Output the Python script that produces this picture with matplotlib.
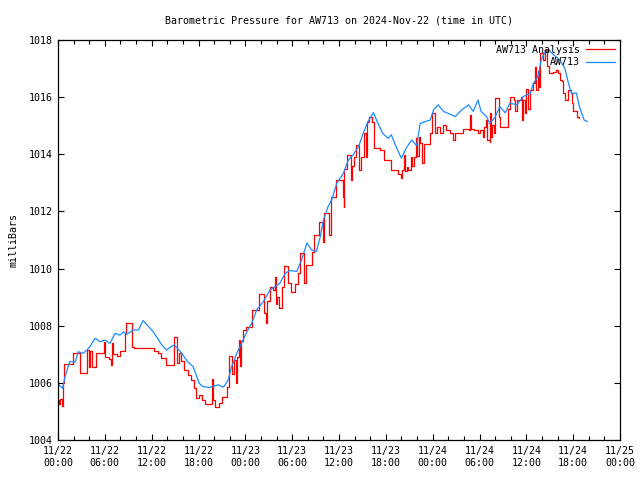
import matplotlib
matplotlib.use("Agg")
import matplotlib.pyplot as plt
import numpy as np

# Hours since 2024-11-22 00:00 UTC
analysis_hours = [0.0, 0.15, 0.3, 0.45, 0.7, 0.77, 1.9, 2.8, 3.75, 3.95, 4.1, 4.3, 4.9, 5.9, 6.05, 6.5, 6.75,
                  6.9, 7.05, 7.5, 8.0, 8.6, 8.75, 9.5, 9.7, 12.0, 12.3, 12.8, 13.2, 13.8, 14.8, 15.2, 15.5,
                  15.8, 16.2, 16.6, 17.0, 17.4, 17.7, 18.1, 18.5, 18.8, 19.7, 19.85, 20.1, 20.6, 21.0, 21.7,
                  21.85, 22.3, 22.5, 22.75, 22.9, 23.2, 23.35, 23.5, 23.7, 24.1, 24.8, 25.8, 26.4, 26.6,
                  26.75, 27.1, 27.5, 27.75, 27.9, 28.1, 28.3, 28.7, 28.9, 29.5, 29.8, 30.4, 30.7, 30.95,
                  31.5, 31.8, 32.6, 32.85, 33.5, 33.9, 34.1, 34.7, 35.0, 35.6, 36.5, 36.6, 36.7, 37.0,
                  37.6, 37.7, 37.9, 38.2, 38.6, 38.8, 39.2, 39.45, 39.6, 39.9, 40.2, 40.45, 41.2, 41.8,
                  42.7, 43.6, 43.9, 44.1, 44.35, 44.5, 44.7, 44.9, 45.2, 45.4, 45.6, 45.9, 46.05, 46.2,
                  46.4, 46.65, 46.85, 47.65, 47.9, 48.3, 48.6, 49.0, 49.3, 49.7, 50.2, 50.6, 50.9, 51.7,
                  51.9, 52.6, 52.75, 52.9, 53.3, 53.8, 54.1, 54.45, 54.6, 54.85, 55.0, 55.3, 55.4, 55.5,
                  55.65, 55.8, 55.95, 56.5, 56.55, 56.65, 57.7, 57.9, 58.4, 58.5, 58.8, 59.3, 59.4, 59.6,
                  59.8, 60.0, 60.2, 60.5, 60.8, 61.1, 61.3, 61.5, 61.6, 61.8, 62.1, 62.4, 62.6, 62.9,
                  63.4, 63.8, 64.1, 64.3, 64.6, 64.7, 64.95, 65.4, 65.7, 65.8, 66.0, 66.5, 66.7, 66.8]
analysis_mb = [1005.4, 1005.25, 1005.45, 1005.2, 1006.0, 1006.66, 1007.06, 1006.33, 1007.15, 1006.57, 1007.1,
               1006.57, 1007.03, 1007.44, 1006.9, 1006.85, 1006.62, 1007.38, 1007.0, 1006.95, 1007.1,
               1007.73, 1008.08, 1007.27, 1007.21, 1007.21, 1007.1, 1007.03, 1006.86, 1006.62, 1007.6,
               1006.68, 1007.03, 1006.75, 1006.45, 1006.28, 1006.1, 1005.81, 1005.46, 1005.58, 1005.4,
               1005.25, 1006.13, 1005.4, 1005.17, 1005.3, 1005.49, 1005.87, 1006.94, 1006.3, 1006.8,
               1006.0, 1006.9, 1007.5, 1006.6, 1007.45, 1007.85, 1007.97, 1008.55, 1009.1, 1008.43,
               1008.08, 1008.85, 1009.37, 1009.25, 1009.72, 1008.75, 1009.0, 1008.61, 1009.35, 1010.09,
               1009.48, 1009.19, 1009.45, 1009.83, 1010.53, 1009.48, 1010.12, 1010.59, 1011.18, 1011.64,
               1010.94, 1011.93, 1011.18, 1012.52, 1013.1, 1012.52, 1012.17, 1013.5, 1013.98, 1013.1,
               1013.6, 1013.9, 1014.33, 1013.45, 1013.9, 1014.73, 1013.9, 1015.14, 1015.32, 1015.14,
               1014.21, 1014.15, 1013.8, 1013.45, 1013.3, 1013.16, 1013.45, 1013.98, 1013.4, 1013.55,
               1013.45, 1013.9, 1013.6, 1013.9, 1014.56, 1013.95, 1014.61, 1014.38, 1013.68, 1014.36,
               1014.73, 1015.43, 1014.73, 1014.95, 1014.73, 1015.03, 1014.85, 1014.73, 1014.5, 1014.73,
               1014.73, 1014.9, 1014.85, 1015.38, 1014.9, 1014.85, 1014.73, 1014.85, 1014.61, 1014.95,
               1015.2, 1014.5, 1014.44, 1015.43, 1014.6, 1015.03, 1014.73, 1015.96, 1015.67, 1015.3,
               1014.97, 1015.6, 1016.02, 1015.9, 1015.5, 1015.9, 1016.0, 1015.2, 1015.9, 1015.45,
               1016.3, 1015.6, 1016.25, 1016.5, 1017.07, 1016.25, 1016.9, 1016.35, 1017.53, 1017.3,
               1017.65, 1017.1, 1016.83, 1016.87, 1016.95, 1016.83, 1016.6, 1016.55, 1016.13, 1015.9,
               1016.25, 1016.15, 1015.8, 1015.5, 1015.32, 1015.26, 1015.26]

station_hours = [0.13, 0.6, 0.9, 1.5, 2.2, 2.6, 3.2, 3.7, 4.1, 4.75, 5.4, 6.0, 6.66, 7.3, 7.94, 8.4, 8.8,
                 9.65, 10.3, 10.9, 11.6, 12.2, 12.6, 13.3, 13.9, 14.5, 14.9, 15.5, 16.0, 16.6, 17.3, 17.7,
                 18.1, 18.6, 19.4, 20.5, 21.2, 21.8, 22.25, 22.9, 23.5, 24.2, 24.8, 25.45, 26.3, 27.16,
                 27.8, 28.4, 29.1, 29.7, 30.6, 31.2, 31.9, 32.5, 33.1, 33.6, 34.0, 34.6, 35.06, 35.7,
                 36.55, 37.2, 37.8, 38.5, 39.1, 39.7, 40.4, 41.0, 41.6, 42.3, 42.7, 43.4, 44.0, 44.6,
                 45.3, 45.95, 46.4, 47.0, 47.7, 48.1, 48.7, 49.4, 50.0, 50.9, 51.7, 52.6, 53.2, 53.8,
                 54.2, 54.9, 55.3, 56.0, 56.6, 57.3, 57.9, 58.8, 59.6, 60.5, 60.9, 61.5, 61.9, 62.3,
                 62.9, 63.5, 64.3, 64.95, 65.4, 65.8, 66.4, 66.8, 67.4, 67.8]
station_mb = [1005.93, 1005.81, 1006.22, 1006.74, 1006.74, 1007.09, 1007.03, 1007.15, 1007.27, 1007.56,
              1007.44, 1007.5, 1007.38, 1007.73, 1007.67, 1007.79, 1007.7, 1007.85, 1007.85, 1008.18,
              1007.97, 1007.79, 1007.62, 1007.33, 1007.15, 1007.27, 1007.33, 1007.15, 1006.98, 1006.74,
              1006.57, 1006.28, 1005.98, 1005.87, 1005.84, 1005.93, 1005.85, 1006.1, 1006.57, 1007.03,
              1007.38, 1007.79, 1008.08, 1008.55, 1008.84, 1009.25, 1009.37, 1009.48, 1009.83, 1009.93,
              1009.9, 1010.3, 1010.9, 1010.65, 1010.6, 1011.12, 1011.7, 1012.17, 1012.4, 1012.98,
              1013.33, 1013.8, 1013.98, 1014.27, 1014.73, 1015.14, 1015.46, 1015.08, 1014.73, 1014.56,
              1014.68, 1014.21, 1013.86, 1014.21, 1014.5, 1014.3, 1015.08, 1015.14, 1015.2, 1015.55,
              1015.73, 1015.5, 1015.43, 1015.32, 1015.55, 1015.73, 1015.5, 1015.9, 1015.5, 1015.32,
              1015.08, 1015.3, 1015.67, 1015.45, 1015.79, 1015.73, 1016.02, 1016.13, 1016.48, 1016.72,
              1017.3, 1017.53, 1017.65, 1017.48, 1017.3, 1017.0, 1016.48, 1016.13, 1016.15, 1015.67,
              1015.2, 1015.15]

tick_hours = list(range(0, 73, 6))
tick_labels = ["11/22\n00:00", "11/22\n06:00", "11/22\n12:00", "11/22\n18:00",
               "11/23\n00:00", "11/23\n06:00", "11/23\n12:00", "11/23\n18:00",
               "11/24\n00:00", "11/24\n06:00", "11/24\n12:00", "11/24\n18:00",
               "11/25\n00:00"]
y_ticks = list(range(1004, 1019, 2))

plt.rcParams['font.family'] = ['DejaVu Sans Mono']
fs = 7.2

fig = plt.figure(figsize=(6.4, 4.8), dpi=100)
ax = fig.add_axes([58/640, 40/480, 562/640, 400/480])

ax.plot(analysis_hours, analysis_mb, color='#ff0000', lw=0.9, drawstyle='steps-post', label='AW713 Analysis')
ax.plot(station_hours, station_mb, color='#1a8cff', lw=0.9, label='AW713')

ax.set_xlim(0, 72)
ax.set_ylim(1004, 1018)
ax.set_xticks(tick_hours)
ax.set_xticklabels(tick_labels, fontsize=fs, linespacing=1.25)
ax.set_xticks(np.arange(0, 73, 2), minor=True)
ax.set_yticks(y_ticks)
ax.set_yticklabels([str(v) for v in y_ticks], fontsize=fs)
ax.tick_params(axis='both', which='major', direction='in', length=4, width=0.8,
               top=True, right=True, pad=4)
ax.tick_params(axis='x', which='minor', direction='in', length=3, width=0.8, top=True)
ax.tick_params(axis='y', which='minor', left=False, right=False)
for s in ax.spines.values():
    s.set_linewidth(0.9)

ax.set_title("Barometric Pressure for AW713 on 2024-Nov-22 (time in UTC)", fontsize=fs, pad=12)
ax.set_ylabel("milliBars", fontsize=fs, labelpad=7)

leg = ax.legend(loc='upper right', frameon=False, markerfirst=False, fontsize=fs,
                handlelength=2.9, handletextpad=0.6, borderaxespad=0.1, labelspacing=0.25,
                bbox_to_anchor=(1.0, 1.0))

fig.savefig("out.png", dpi=100)
